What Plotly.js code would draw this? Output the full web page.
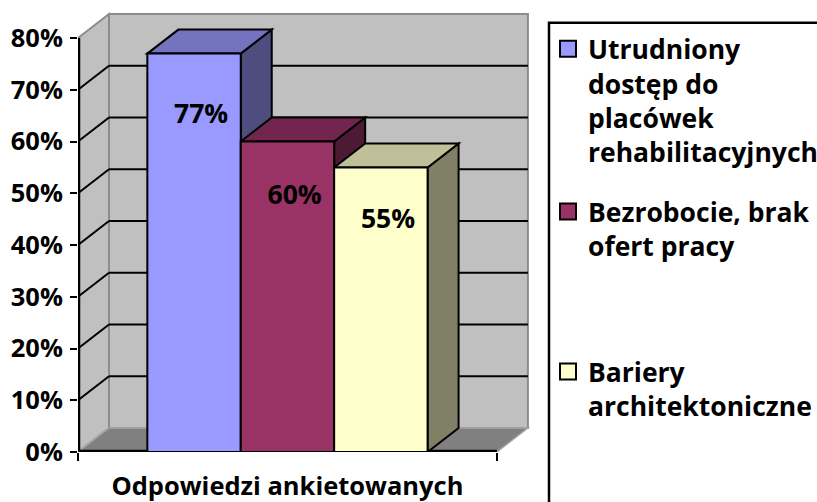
<!DOCTYPE html>
<html>
<head>
<meta charset="utf-8">
<script src="https://cdn.plot.ly/plotly-3.0.1.min.js"></script>
<style>html,body{margin:0;padding:0;background:#fff;}#chart{width:817px;height:502px;}</style>
</head>
<body>
<div id="chart"></div>
<script>
// ---- data ----
const categories = ['Odpowiedzi ankietowanych'];
const seriesNames = ['Utrudniony dostęp do placówek rehabilitacyjnych', 'Bezrobocie, brak ofert pracy', 'Bariery architektoniczne'];
const legendLabels = ['Utrudniony<br>dostęp do<br>placówek<br>rehabilitacyjnych', 'Bezrobocie, brak<br>ofert pracy', 'Bariery<br>architektoniczne'];
const values = [77, 60, 55];
const yTickValues = [0, 10, 20, 30, 40, 50, 60, 70, 80];
const yTickLabels = ['0%', '10%', '20%', '30%', '40%', '50%', '60%', '70%', '80%'];

// ---- style ----
const frontColors = ['#9999FF', '#993366', '#FFFFCC'];
const FONT = '"Open Sans", Lato, sans-serif';
const DX = 0.074;   // 3-D depth along x (axis units)
const DY = 4.64;    // 3-D depth along y (axis units)
const BARGAP = 0.331;
const YMAX = yTickValues[yTickValues.length - 1];

const W = 817, H = 502;
const M = {l: 78, r: 287, t: 12, b: 50};
const PW = W - M.l - M.r, PH = H - M.t - M.b;
const paperX = px => (px - M.l) / PW;
const paperY = py => (H - M.b - py) / PH;

function shade(hex, f) {
  const n = parseInt(hex.slice(1), 16);
  const r = Math.round(((n >> 16) & 255) * f), g = Math.round(((n >> 8) & 255) * f), b = Math.round((n & 255) * f);
  return 'rgb(' + r + ',' + g + ',' + b + ')';
}

const nS = values.length;
const groupW = 1 - BARGAP;
const barW = groupW / nS;
const offsets = values.map((v, i) => -groupW / 2 + i * barW);

const traces = [];
const shapes = [];

// walls & floor
const L = -0.5, R = 0.5;
shapes.push({type: 'path', xref: 'x', yref: 'y', layer: 'below',
  path: `M${L},0 L${L + DX},${DY} L${L + DX},${YMAX + DY} L${L},${YMAX} Z`,
  fillcolor: '#C0C0C0', line: {color: '#8C8C8C', width: 2}});
shapes.push({type: 'rect', xref: 'x', yref: 'y', layer: 'below',
  x0: L + DX, x1: R + DX, y0: DY, y1: YMAX + DY,
  fillcolor: '#C0C0C0', line: {color: '#8C8C8C', width: 2}});
shapes.push({type: 'path', xref: 'x', yref: 'y', layer: 'below',
  path: `M${L},0 L${R},0 L${R + DX},${DY} L${L + DX},${DY} Z`,
  fillcolor: '#808080', line: {color: '#A6A6A6', width: 1.5}});
// gridlines on back wall + left wall
yTickValues.forEach(t => {
  if (t === 0 || t === YMAX) return;
  shapes.push({type: 'line', xref: 'x', yref: 'y', layer: 'below',
    x0: L + DX, x1: R + DX, y0: t + DY, y1: t + DY, line: {color: '#000', width: 2}});
  shapes.push({type: 'line', xref: 'x', yref: 'y', layer: 'below',
    x0: L, x1: L + DX, y0: t, y1: t + DY, line: {color: '#000', width: 2}});
});
// axis lines (half clipped by plot edge -> visible width ~2px)
shapes.push({type: 'line', xref: 'x', yref: 'y', layer: 'below',
  x0: L, x1: L, y0: 0, y1: YMAX, line: {color: '#000', width: 4.5}});
shapes.push({type: 'line', xref: 'x', yref: 'y', layer: 'below',
  x0: L, x1: R, y0: 0, y1: 0, line: {color: '#000', width: 4.5}});

// bars: side & top faces (shapes), front faces (bar traces)
values.forEach((v, i) => {
  const x0 = offsets[i], x1 = offsets[i] + barW;
  shapes.push({type: 'path', xref: 'x', yref: 'y', layer: 'below',
    path: `M${x1},0 L${x1 + DX},${DY} L${x1 + DX},${v + DY} L${x1},${v} Z`,
    fillcolor: shade(frontColors[i], 0.5), line: {color: '#000', width: 2}});
  shapes.push({type: 'path', xref: 'x', yref: 'y', layer: 'below',
    path: `M${x0},${v} L${x1},${v} L${x1 + DX},${v + DY} L${x0 + DX},${v + DY} Z`,
    fillcolor: shade(frontColors[i], 0.75), line: {color: '#000', width: 2}});
  traces.push({type: 'bar', x: [0], y: [v], width: [barW], offset: [x0],
    name: seriesNames[i], showlegend: false, hoverinfo: 'y',
    marker: {color: frontColors[i], line: {color: '#000', width: 2}}});
});

// data labels (placed inside the front face, a little below the top)
traces.push({type: 'scatter', mode: 'text', showlegend: false, hoverinfo: 'skip',
  x: values.map((v, i) => offsets[i] + barW / 2 + DX * 0.23),
  y: values.map(v => v * 0.923 - 6.2),
  text: values.map(v => v + '%'),
  textposition: 'middle center',
  textfont: {family: FONT, size: 26.5, color: '#000', weight: 700}});

// legend entries
const legendIds = ['legend', 'legend2', 'legend3'];
values.forEach((v, i) => {
  traces.push({type: 'scatter', mode: 'markers', x: [null], y: [null],
    name: legendLabels[i], legend: legendIds[i], showlegend: true, hoverinfo: 'skip',
    marker: {symbol: 'square', size: 16, color: frontColors[i], line: {color: '#000', width: 2}}});
});

// legend frame (extends past the right and bottom edges, as in the original)
shapes.push({type: 'rect', xref: 'paper', yref: 'paper', layer: 'above',
  x0: paperX(549), x1: paperX(860), y0: paperY(560), y1: paperY(22.7),
  line: {color: '#000', width: 2.5}, fillcolor: 'rgba(0,0,0,0)'});

const legendFont = {family: FONT, size: 26.5, color: '#000', weight: 700};
const legendCommon = {xanchor: 'left', yanchor: 'top', bgcolor: 'rgba(0,0,0,0)', borderwidth: 0,
  font: legendFont, valign: 'top', itemsizing: 'trace', itemclick: false, itemdoubleclick: false};

const layout = {
  width: W, height: H,
  margin: {l: M.l, r: M.r, t: M.t, b: M.b, pad: 0, autoexpand: false},
  paper_bgcolor: '#fff', plot_bgcolor: 'rgba(0,0,0,0)',
  font: {family: FONT, color: '#000'},
  barmode: 'overlay',
  showlegend: true,
  xaxis: {type: 'linear', range: [L, R + DX + 0.005], fixedrange: true,
    showgrid: false, zeroline: false, showline: false,
    tickmode: 'array', tickvals: [0], ticktext: categories, ticks: '',
    ticklabelstandoff: 16,
    tickfont: {family: FONT, size: 25.5, color: '#000', weight: 700},
    minor: {tickmode: 'array', tickvals: [L, R], ticks: 'outside', ticklen: 8, tickwidth: 2, tickcolor: '#000', showgrid: false}},
  yaxis: {range: [0, YMAX + DY + 0.4], fixedrange: true,
    showgrid: false, zeroline: false, showline: false,
    tickmode: 'array', tickvals: yTickValues, ticktext: yTickLabels,
    ticks: 'outside', ticklen: 7, tickwidth: 2, tickcolor: '#000',
    ticklabelstandoff: 2,
    tickfont: {family: FONT, size: 25.5, color: '#000', weight: 700}},
  legend: Object.assign({x: paperX(548), y: paperY(25)}, legendCommon),
  legend2: Object.assign({x: paperX(548), y: paperY(187.7)}, legendCommon),
  legend3: Object.assign({x: paperX(548), y: paperY(347.7)}, legendCommon),
  shapes: shapes
};

Plotly.newPlot('chart', traces, layout, {displayModeBar: false, staticPlot: true});
</script>
</body>
</html>
